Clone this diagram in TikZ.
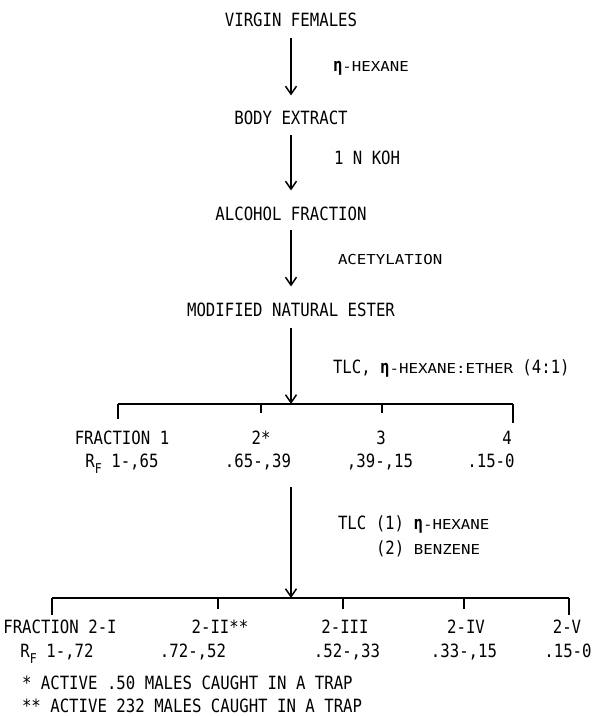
\documentclass[tikz,border=0pt]{standalone}
\usepackage{fontspec}
\setmainfont{DejaVu Sans Mono}[FakeStretch=0.86]
\newfontfamily\lowfont{DejaVu Sans Mono}[FakeStretch=1.15]
\usetikzlibrary{arrows.meta}

% typewriter sizes: full capitals and the smaller reagent capitals
\newcommand{\mainsz}{\fontsize{18.25}{20}\selectfont}
\newcommand{\sm}[1]{{\lowfont\fontsize{13.7}{14}\selectfont #1}}
\newcommand{\etan}{{\bfseries η}}
\newcommand{\rfsub}{R\raisebox{-6pt}{\fontsize{13.5}{14}\selectfont F}}

\begin{document}
\begin{tikzpicture}[x=1pt,y=-1pt,
  every node/.style={inner sep=0pt, outer sep=0pt, font=\mainsz, anchor=base},
  lbl/.style={anchor=base west},
  flow/.style={line width=1.5pt, -{Straight Barb[length=8pt,width=11pt,line width=1.5pt]}},
  rail/.style={line width=1.5pt}]
\useasboundingbox (0,0) rectangle (596,716);

% main extraction sequence
\node (vf)  at (291,26)  {VIRGIN FEMALES};
\node (be)  at (291,124) {BODY EXTRACT};
\node (af)  at (291,220) {ALCOHOL FRACTION};
\node (mne) at (291,316) {MODIFIED NATURAL ESTER};

\draw[flow, shorten <=12pt, shorten >=15pt] (vf) -- (be);
\draw[flow, shorten <=11pt, shorten >=16pt] (be) -- (af);
\draw[flow, shorten <=10pt, shorten >=16pt] (af) -- (mne);

% reagents beside the arrows
\node[lbl] (r1) at (333,71)  {\etan\sm{-HEXANE}};
\node[lbl] (r2) at (334,164) {1 N KOH};
\node[lbl] (r3) at (338,264) {\sm{ACETYLATION}};
\node[lbl] (r4) at (333,373) {TLC, \etan\sm{-HEXANE:ETHER} (4:1)};

% first TLC split
\coordinate (b1)  at (291,404);
\coordinate (b1l) at (118,404);
\coordinate (b1r) at (513,404);
\draw[flow, shorten <=12pt] (mne) -- (b1);
\draw[rail] (b1l) -- (b1r);
\draw[rail] (b1l) -- ++(0,15);
\draw[rail] (261,404) -- ++(0,9);
\draw[rail] (382,404) -- ++(0,9);
\draw[rail] (b1r) -- ++(0,19);

\node (f1) at (122,444) {FRACTION 1};
\node (f2) at (261,444) {2*};
\node (f3) at (381,444) {3};
\node (f4) at (507,444) {4};
\node (p1) at (122,467) {\rfsub{} 1-,65};
\node (p2) at (258,467) {.65-,39};
\node (p3) at (380,467) {,39-,15};
\node (p4) at (491,467) {.15-0};

% second TLC split of fraction 2
\coordinate (a5) at (291,487);
\coordinate (b2)  at (291,598);
\coordinate (b2l) at (52,598);
\coordinate (b2r) at (569,598);
\draw[flow] (a5) -- (b2);
\node[lbl] (r5) at (338,529) {TLC (1) \etan\sm{-HEXANE}};
\node[lbl] (r6) at (376,554) {(2) \sm{BENZENE}};

\draw[rail] (b2l) -- (b2r);
\draw[rail] (b2l) -- ++(0,17);
\draw[rail] (218,598) -- ++(0,11);
\draw[rail] (343,598) -- ++(0,11);
\draw[rail] (464,598) -- ++(0,11);
\draw[rail] (b2r) -- ++(0,17);

\node (g1) at (60,633)  {FRACTION 2-I};
\node (g2) at (220,633) {2-II**};
\node (g3) at (345,633) {2-III};
\node (g4) at (466,633) {2-IV};
\node (g5) at (567,633) {2-V};
\node (h1) at (57,657)  {\rfsub{} 1-,72};
\node (h2) at (193,657) {.72-,52};
\node (h3) at (347,657) {.52-,33};
\node (h4) at (464,657) {.33-,15};
\node (h5) at (568,657) {.15-0};

% footnotes
\node[lbl] (n1) at (22,689) {* ACTIVE .50 MALES CAUGHT IN A TRAP};
\node[lbl] (n2) at (22,712) {** ACTIVE 232 MALES CAUGHT IN A TRAP};
\end{tikzpicture}
\end{document}
